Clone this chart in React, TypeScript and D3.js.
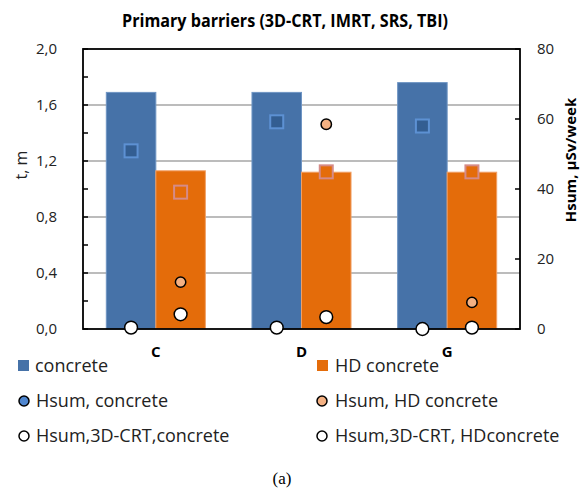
import React from 'react';
import * as d3 from 'd3';

// Categories and series
const categories = ['C', 'D', 'G'];
const seriesKeys = ['concrete', 'hd'];

// Barrier thickness, m (left axis)
const thicknessConcrete = [1.69, 1.69, 1.76];
const thicknessHD = [1.13, 1.12, 1.12];

// Square markers, µSv/week (right axis)
const squareConcrete = [50.9, 59.2, 58.0];
const squareHD = [39.1, 44.9, 44.9];

// Hsum, HD concrete, µSv/week
const hsumHD = [13.4, 58.5, 7.6];

// Hsum for 3D-CRT, µSv/week
const hsum3dConcrete = [0.4, 0.4, 0.0];
const hsum3dHD = [4.2, 3.4, 0.4];

const leftTicks = [0, 0.4, 0.8, 1.2, 1.6, 2.0];
const leftMinorTicks = [0.2, 0.6, 1.0, 1.4, 1.8];
const rightTicks = [0, 20, 40, 60, 80];

const W = 581;
const H = 494;
const M = { left: 83, right: 520, top: 49, bottom: 329 };

const BLUE = '#4672a8';
const ORANGE = '#e46c0a';
const FONT = "'Open Sans', 'Noto Sans', sans-serif";

export default function App() {
  const x = d3.scaleBand<string>().domain(categories).range([M.left, M.right]).padding(0);
  const groupW = x.bandwidth() * 0.68;
  const sub = d3.scaleBand<string>().domain(seriesKeys).range([0, groupW]).padding(0);
  const yL = d3.scaleLinear().domain([0, 2]).range([M.bottom, M.top]);
  const yR = d3.scaleLinear().domain([0, 80]).range([M.bottom, M.top]);
  const fmt = (v: number) => d3.format('.1f')(v).replace('.', ',');

  const gx = (c: string) => (x(c) as number) + (x.bandwidth() - groupW) / 2;
  const cx = (c: string, k: string) => gx(c) + (sub(k) as number) + sub.bandwidth() / 2;

  const bars: { c: string; k: string; v: number; color: string; stroke: string }[] = [];
  categories.forEach((c, i) => {
    bars.push({ c, k: 'concrete', v: thicknessConcrete[i], color: BLUE, stroke: '#6f95c4' });
    bars.push({ c, k: 'hd', v: thicknessHD[i], color: ORANGE, stroke: '#f0a066' });
  });

  const sq = 13;

  return (
    <svg width={W} height={H} style={{ position: 'absolute', left: 0, top: 0, background: '#fff' }} fontFamily={FONT}>
      <text x={122} y={27} textLength={326} lengthAdjust="spacingAndGlyphs" fontWeight="bold" fontSize={17} fill="#000">
        Primary barriers (3D-CRT, IMRT, SRS, TBI)
      </text>

      {/* gridlines */}
      {leftTicks.filter((t) => t > 0 && t < 2).map((t) => (
        <line key={'g' + t} x1={M.left} x2={M.right} y1={yL(t)} y2={yL(t)} stroke="#a6a6a6" strokeWidth={1.5} />
      ))}

      {/* bars */}
      {bars.map((b) => (
        <rect
          key={b.c + b.k}
          x={gx(b.c) + (sub(b.k) as number)}
          y={yL(b.v)}
          width={sub.bandwidth()}
          height={M.bottom - yL(b.v)}
          fill={b.color}
          stroke={b.stroke}
          strokeWidth={1}
        />
      ))}

      {/* frame */}
      <rect x={M.left} y={M.top} width={M.right - M.left} height={M.bottom - M.top} fill="none" stroke="#000" strokeWidth={1.8} />

      {/* left ticks */}
      {leftTicks.concat(leftMinorTicks).map((t) => (
        <line key={'lt' + t} x1={M.left} x2={M.left + 5} y1={yL(t)} y2={yL(t)} stroke="#000" strokeWidth={1.5} />
      ))}
      {leftTicks.map((t) => (
        <text key={'ll' + t} x={57} y={yL(t)} dy="0.35em" textAnchor="end" fontSize={15} fill="#222">
          {fmt(t)}
        </text>
      ))}

      {/* right ticks */}
      {rightTicks.map((t) => (
        <line key={'rt' + t} x1={M.right - 5} x2={M.right} y1={yR(t)} y2={yR(t)} stroke="#000" strokeWidth={1.5} />
      ))}
      {rightTicks.map((t) => (
        <text key={'rl' + t} x={537} y={yR(t)} dy="0.35em" textAnchor="start" fontSize={15} fill="#222">
          {t}
        </text>
      ))}

      {/* axis titles */}
      <text transform={`translate(27,165) rotate(-90)`} textAnchor="middle" fontSize={16} fill="#222">
        t, m
      </text>
      <text transform={`translate(576,160) rotate(-90)`} textAnchor="middle" fontWeight="bold" fontSize={15} fill="#000">
        Hsum, µSv/week
      </text>

      {/* category labels */}
      {categories.map((c) => (
        <text key={'cl' + c} x={(x(c) as number) + x.bandwidth() / 2} y={357} textAnchor="middle" fontWeight="bold" fontSize={15} fill="#000">
          {c}
        </text>
      ))}

      {/* square markers */}
      {categories.map((c, i) => (
        <rect key={'sqc' + c} x={cx(c, 'concrete') - sq / 2} y={yR(squareConcrete[i]) - sq / 2} width={sq} height={sq} fill="#335e92" stroke="#5d91d3" strokeWidth={2} />
      ))}
      {categories.map((c, i) => (
        <rect key={'sqh' + c} x={cx(c, 'hd') - sq / 2} y={yR(squareHD[i]) - sq / 2} width={sq} height={sq} fill={ORANGE} stroke="#d58b88" strokeWidth={2} />
      ))}

      {/* Hsum, HD concrete */}
      {categories.map((c, i) => (
        <circle key={'oh' + c} cx={cx(c, 'hd')} cy={yR(hsumHD[i])} r={5.2} fill="#f4b183" stroke="#000" strokeWidth={1.5} />
      ))}

      {/* Hsum, 3D-CRT */}
      {categories.map((c, i) => (
        <circle key={'wc' + c} cx={cx(c, 'concrete')} cy={yR(hsum3dConcrete[i])} r={6.4} fill="#fff" stroke="#000" strokeWidth={1.5} />
      ))}
      {categories.map((c, i) => (
        <circle key={'wh' + c} cx={cx(c, 'hd')} cy={yR(hsum3dHD[i])} r={6.4} fill="#fff" stroke="#000" strokeWidth={1.5} />
      ))}

      {/* legend */}
      <g fontSize={18} fill="#222">
        <rect x={18} y={360} width={11} height={11} fill={BLUE} />
        <text x={35} y={372}>concrete</text>
        <rect x={317} y={360} width={11} height={11} fill={ORANGE} />
        <text x={335} y={372}>HD concrete</text>

        <circle cx={24} cy={401} r={5} fill="#4f86cf" stroke="#000" strokeWidth={1.5} />
        <text x={36} y={407}>Hsum, concrete</text>
        <circle cx={322} cy={401} r={5} fill="#f4b183" stroke="#000" strokeWidth={1.5} />
        <text x={335} y={407}>Hsum, HD concrete</text>

        <circle cx={24} cy={436} r={5} fill="#fff" stroke="#000" strokeWidth={1.5} />
        <text x={36} y={442}>Hsum,3D-CRT,concrete</text>
        <circle cx={322} cy={436} r={5} fill="#fff" stroke="#000" strokeWidth={1.5} />
        <text x={335} y={442}>Hsum,3D-CRT, HDconcrete</text>
      </g>

      <text x={282} y={484} textAnchor="middle" fontFamily="'Liberation Serif', 'DejaVu Serif', serif" fontSize={17} fill="#000">
        (a)
      </text>
    </svg>
  );
}
